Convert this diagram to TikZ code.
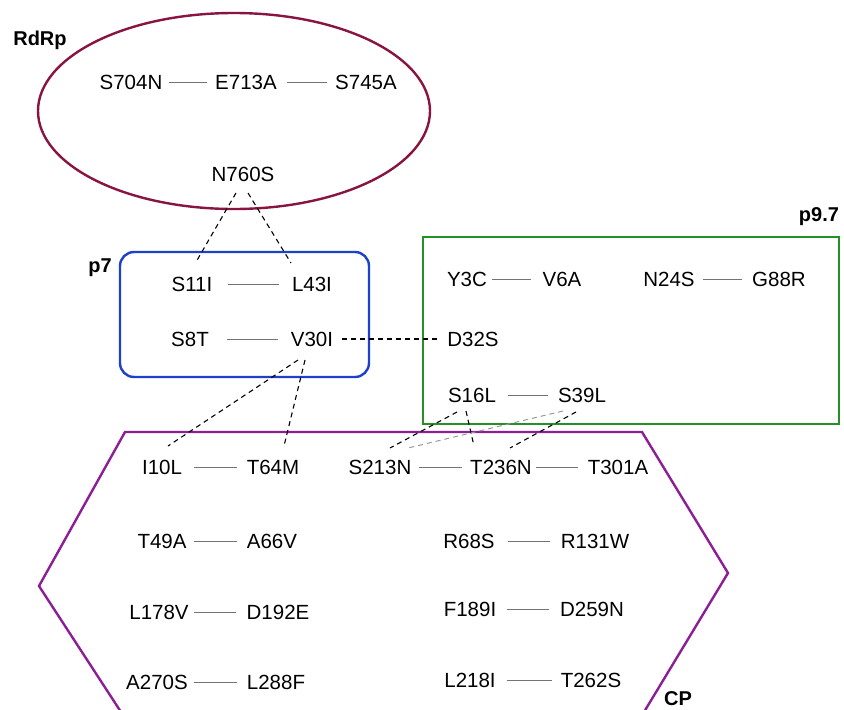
\documentclass[tikz,border=0pt]{standalone}
\usepackage{fontspec}
\setmainfont{Liberation Sans}
\usetikzlibrary{calc}
\definecolor{rdrpred}{RGB}{135,20,65}
\definecolor{pblue}{RGB}{30,65,205}
\definecolor{pgreen}{RGB}{35,145,35}
\definecolor{cppurple}{RGB}{140,30,150}
\tikzset{
  mut/.style={font=\fontsize{20.5}{24}\selectfont, inner sep=0pt, anchor=center},
  lbl/.style={font=\fontsize{20}{24}\selectfont\bfseries, inner sep=0pt},
  link/.style={draw=black!55, line width=1pt},
  assoc/.style={draw=black, line width=1.1pt, dash pattern=on 5pt off 4pt},
  weak/.style={draw=black!40, line width=1pt, dash pattern=on 5pt off 4pt},
  border/.style={line width=2.4pt},
}
\begin{document}
\begin{tikzpicture}[x=1pt,y=-1pt]
\useasboundingbox (0,0) rectangle (844,710);
\fill[white] (0,0) rectangle (844,710);

% RdRp
\draw[border, rdrpred] (234,111) ellipse [x radius=196, y radius=98];
\node[lbl] at (40,40) {RdRp};
\node[mut] (S704N) at (131,82) {S704N};
\node[mut] (E713A) at (246,82) {E713A};
\node[mut] (S745A) at (366,82) {S745A};
\node[mut] (N760S) at (243,174) {N760S};
\draw[link] ($(S704N.east)+(6,0)$) -- ($(E713A.west)+(-8,0)$);
\draw[link] ($(E713A.east)+(10,0)$) -- ($(S745A.west)+(-8,0)$);

% p7
\draw[border, pblue, rounded corners=14pt] (120,252) rectangle (369,377);
\node[lbl] at (100,268) {p7};
\node[mut] (S11I) at (192,284) {S11I};
\node[mut] (L43I) at (312,284) {L43I};
\node[mut] (S8T)  at (190,339) {S8T};
\node[mut] (V30I) at (312,339) {V30I};
\draw[link] ($(S11I.east)+(15,0)$) -- ($(L43I.west)+(-13,0)$);
\draw[link] ($(S8T.east)+(18,0)$) -- ($(V30I.west)+(-13,0)$);

% p9.7
\draw[border, pgreen] (423,237) rectangle (839,424);
\node[lbl] at (819,217) {p9.7};
\node[mut] (Y3C)  at (467,279) {Y3C};
\node[mut] (V6A)  at (562,279) {V6A};
\node[mut] (N24S) at (669,279) {N24S};
\node[mut] (G88R) at (779,279) {G88R};
\node[mut] (D32S) at (473,339) {D32S};
\node[mut] (S16L) at (472,395) {S16L};
\node[mut] (S39L) at (582,395) {S39L};
\draw[link] ($(Y3C.east)+(5,0)$) -- ($(V6A.west)+(-11,0)$);
\draw[link] ($(N24S.east)+(8,0)$) -- ($(G88R.west)+(-10,0)$);
\draw[link] ($(S16L.east)+(12,0)$) -- ($(S39L.west)+(-10,0)$);

% CP
\begin{scope}
\clip (0,0) rectangle (844,710);
\draw[border, cppurple, line join=miter]
  (121,712) -- (39,586) -- (125,432) -- (642,432) -- (728,573) -- (644,712);
\end{scope}
\node[lbl] at (678,699) {CP};
\node[mut] (I10L)  at (162,467) {I10L};
\node[mut] (T64M)  at (273,467) {T64M};
\node[mut] (S213N) at (380,467) {S213N};
\node[mut] (T236N) at (501,467) {T236N};
\node[mut] (T301A) at (618,467) {T301A};
\node[mut] (T49A)  at (162,541) {T49A};
\node[mut] (A66V)  at (272,541) {A66V};
\node[mut] (R68S)  at (469,541) {R68S};
\node[mut] (R131W) at (595,541) {R131W};
\node[mut] (L178V) at (159,612) {L178V};
\node[mut] (D192E) at (278,612) {D192E};
\node[mut] (F189I) at (470,609) {F189I};
\node[mut] (D259N) at (592,609) {D259N};
\node[mut] (A270S) at (157,682) {A270S};
\node[mut] (L288F) at (276,682) {L288F};
\node[mut] (L218I) at (470,680) {L218I};
\node[mut] (T262S) at (591,680) {T262S};
\draw[link] ($(I10L.east)+(12,0)$) -- ($(T64M.west)+(-10,0)$);
\draw[link] ($(S213N.east)+(7,0)$) -- ($(T236N.west)+(-8,0)$);
\draw[link] ($(T236N.east)+(4,0)$) -- ($(T301A.west)+(-10,0)$);
\draw[link] ($(T49A.east)+(7,0)$) -- ($(A66V.west)+(-10,0)$);
\draw[link] ($(R68S.east)+(13,0)$) -- ($(R131W.west)+(-11,0)$);
\draw[link] ($(L178V.east)+(5,0)$) -- ($(D192E.west)+(-10,0)$);
\draw[link] ($(F189I.east)+(11,0)$) -- ($(D259N.west)+(-11,0)$);
\draw[link] ($(A270S.east)+(6,0)$) -- ($(L288F.west)+(-10,0)$);
\draw[link] ($(L218I.east)+(11,0)$) -- ($(T262S.west)+(-9,0)$);

% cross-protein associations
\draw[assoc] ($(N760S)+(-7,19)$) -- ($(S11I)+(4,-22)$);
\draw[assoc] ($(N760S)+(5,19)$) -- ($(L43I)+(-21,-21)$);
\draw[assoc] ($(V30I.east)+(9,0)$) -- ($(D32S.west)+(-8,0)$);
\draw[assoc] ($(V30I)+(-14,21)$) -- ($(I10L)+(6,-21)$);
\draw[assoc] ($(V30I)+(-7,21)$) -- ($(T64M)+(11,-21)$);
\draw[assoc] ($(S16L)+(-15,17)$) -- ($(S213N)+(10,-19)$);
\draw[assoc] ($(S16L)+(-6,16)$) -- ($(T236N)+(-27,-21)$);
\draw[weak]  ($(S39L)+(-19,16)$) -- ($(S213N)+(28,-19)$);
\draw[assoc] ($(S39L)+(-6,17)$) -- ($(T236N)+(9,-19)$);
\end{tikzpicture}
\end{document}
